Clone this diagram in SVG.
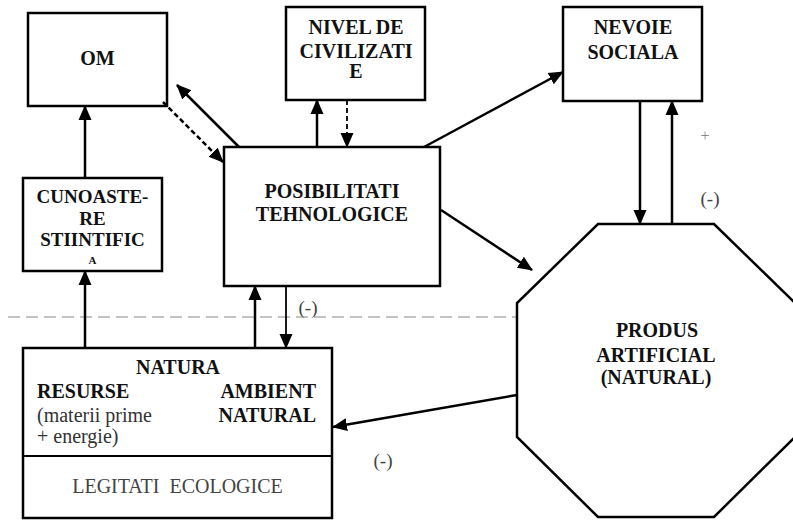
<svg xmlns="http://www.w3.org/2000/svg" width="793" height="521" viewBox="0 0 793 521">
<style>
.box{fill:#fff;stroke:#000;stroke-width:2.5}
text{font-family:'Liberation Serif','Times New Roman','DejaVu Serif',serif}
.b{font-weight:bold;font-size:20px;fill:#111;text-anchor:middle}
.r{font-size:20px;fill:#333}
.c{stroke:#000;stroke-width:2.5;fill:none}
.d{stroke-dasharray:5 3}
.lbl{font-size:19px;fill:#444;text-anchor:middle}
</style>
<defs>
<marker id="ah" markerUnits="userSpaceOnUse" markerWidth="15" markerHeight="15" viewBox="0 0 15 15" refX="14" refY="7.5" orient="auto">
<path d="M0,1 L15,7.5 L0,14 Z" fill="#000"/>
</marker>
</defs>
<rect width="793" height="521" fill="#fff"/>
<line x1="8" y1="317" x2="517" y2="317" stroke="#c4c4c4" stroke-width="2" stroke-dasharray="12 6"/>
<g id="om"><rect class="box" x="28" y="13" width="139" height="93"/><text class="b" x="97.5" y="64.5">OM</text></g>
<g id="nivel"><rect class="box" x="286" y="7" width="139" height="93"/><text class="b" x="356" y="34">NIVEL DE</text><text class="b" x="356" y="58">CIVILIZATI</text><text class="b" x="356" y="78">E</text></g>
<g id="nevoie"><rect class="box" x="563" y="7" width="139" height="94"/><text class="b" x="633" y="34">NEVOIE</text><text class="b" x="633" y="59">SOCIALA</text></g>
<g id="cunoastere"><rect class="box" x="23" y="178" width="139" height="93"/><text class="b" x="92.5" y="203" style="font-size:19px">CUNOASTE-</text><text class="b" x="92.5" y="225" style="font-size:19px">RE</text><text class="b" x="92.5" y="246" style="font-size:19px">STIINTIFIC</text><text class="b" x="92.5" y="264" style="font-size:11px">A</text></g>
<g id="posibilitati"><rect class="box" x="224" y="147" width="216" height="139"/><text class="b" x="332" y="198">POSIBILITATI</text><text class="b" x="332" y="221">TEHNOLOGICE</text></g>
<g id="produs"><polygon class="box" points="598,224 714,224 795,303 795,437 714,517 598,517 517,437 517,303"/><text class="b" x="657" y="337">PRODUS</text><text class="b" x="656" y="362">ARTIFICIAL</text><text class="b" x="656" y="384">(NATURAL)</text></g>
<g id="natura"><rect class="box" x="23" y="348" width="309" height="170"/><line x1="23" y1="456" x2="332" y2="456" stroke="#000" stroke-width="2"/>
<text class="b" x="178" y="374">NATURA</text>
<text class="b" x="37" y="398" style="text-anchor:start">RESURSE</text>
<text class="b" x="316" y="398" style="text-anchor:end">AMBIENT</text>
<text class="b" x="316" y="422" style="text-anchor:end">NATURAL</text>
<text class="r" x="37" y="422">(materii prime</text>
<text class="r" x="37" y="443">+ energie)</text>
<text class="r" x="177.5" y="493" style="text-anchor:middle;fill:#444;white-space:pre" xml:space="preserve">LEGITATI  ECOLOGICE</text></g>
<g id="connectors">
<line class="c" x1="85" y1="178" x2="85" y2="106" marker-end="url(#ah)"/>
<line class="c" x1="85" y1="348" x2="85" y2="271" marker-end="url(#ah)"/>
<line class="c d" x1="163" y1="102" x2="223" y2="162" marker-end="url(#ah)"/>
<line class="c" x1="239" y1="147" x2="177" y2="85" marker-end="url(#ah)"/>
<line class="c" x1="317" y1="147" x2="317" y2="100" marker-end="url(#ah)"/>
<line class="c d" x1="347" y1="100" x2="347" y2="147" marker-end="url(#ah)" style="stroke-width:1.8"/>
<line class="c" x1="424" y1="147" x2="563" y2="72" marker-end="url(#ah)"/>
<line class="c" x1="640" y1="101" x2="640" y2="224" marker-end="url(#ah)"/>
<line class="c" x1="672" y1="224" x2="672" y2="101" marker-end="url(#ah)"/>
<line class="c" x1="441" y1="210" x2="532" y2="270" marker-end="url(#ah)"/>
<line class="c" x1="517" y1="395" x2="333" y2="427" marker-end="url(#ah)"/>
<line class="c" x1="255" y1="348" x2="255" y2="286" marker-end="url(#ah)"/>
<line class="c" x1="286" y1="286" x2="286" y2="348" marker-end="url(#ah)" style="stroke-width:1.8"/>
</g>
<text class="lbl" x="308" y="314">(-)</text>
<text class="lbl" x="710" y="205">(-)</text>
<text class="lbl" x="705" y="141" style="font-size:16px;fill:#888">+</text>
<text class="lbl" x="383" y="467">(-)</text>
</svg>
